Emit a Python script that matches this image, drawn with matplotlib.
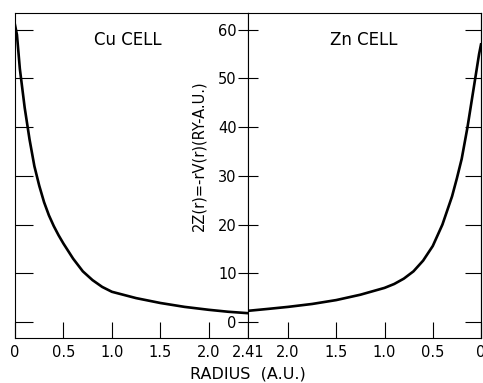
import matplotlib
matplotlib.use("Agg")
import matplotlib.pyplot as plt

# values
cu_r = [0, 0.02, 0.05, 0.1, 0.15, 0.2, 0.25, 0.3, 0.35, 0.4, 0.45, 0.5, 0.6, 0.7, 0.8, 0.9,
        1.0, 1.25, 1.5, 1.75, 2.0, 2.2, 2.41]
cu_z = [61, 59, 52, 44, 37.5, 32, 28, 24.6, 21.9, 19.7, 17.8, 16.1, 13, 10.4, 8.6, 7.2,
        6.2, 4.9, 3.9, 3.1, 2.5, 2.1, 1.8]
zn_r = [0, 0.02, 0.06, 0.1, 0.14, 0.2, 0.25, 0.3, 0.4, 0.5, 0.6, 0.7, 0.8, 0.9,
        1.0, 1.25, 1.5, 1.75, 2.0, 2.2, 2.41]
zn_z = [57, 55, 50, 45, 40, 33.5, 29.5, 25.8, 20, 15.6, 12.6, 10.4, 8.9, 7.8,
        7.0, 5.6, 4.5, 3.7, 3.1, 2.7, 2.3]

yticks = [0, 10, 20, 30, 40, 50, 60]
left_xticks = [0, 0.5, 1.0, 1.5, 2.0, 2.41]
left_xlabels = ["0", "0.5", "1.0", "1.5", "2.0", "2.41"]
right_xticks = [2.0, 1.5, 1.0, 0.5, 0]
right_xlabels = ["2.0", "1.5", "1.0", "0.5", "0"]

plt.rcParams["font.family"] = "DejaVu Sans"
W, H = 483, 383
fig = plt.figure(figsize=(W / 100, H / 100), dpi=100)

ymin, ymax = -3.29, 63.45
ax1 = fig.add_axes([15 / W, 45 / H, 233.5 / W, 325 / H])
ax2 = fig.add_axes([248.5 / W, 45 / H, 232.5 / W, 325 / H])

for ax in (ax1, ax2):
    ax.set_ylim(ymin, ymax)
    ax.set_yticks(yticks)
    for s in ax.spines.values():
        s.set_linewidth(0.8)
    ax.tick_params(axis="x", direction="in", length=11.5, width=0.8,
                   labelsize=10.5, pad=5)

# Cu cell
ax1.plot(cu_r, cu_z, color="black", lw=1.9)
ax1.set_xlim(0, 2.41)
ax1.set_xticks(left_xticks, left_xlabels)
ax1.tick_params(axis="y", direction="in", length=13, width=0.8,
                left=True, right=False, labelleft=False)
ax1.text(1.16, 58, "Cu CELL", fontsize=12, ha="center", va="center")

# Zn cell (radius runs backwards)
ax2.plot(zn_r, zn_z, color="black", lw=1.9)
ax2.set_xlim(2.41, 0)
ax2.set_xticks(right_xticks, right_xlabels)
ax2.tick_params(axis="y", direction="inout", length=15, width=0.8,
                left=True, right=False, labelleft=True, labelsize=10.5, pad=1)
ax2.text(1.22, 58, "Zn CELL", fontsize=12, ha="center", va="center")
sec = ax2.secondary_yaxis("right")
sec.set_yticks(yticks)
sec.tick_params(direction="in", length=11.5, width=0.8, labelright=False)
sec.spines["right"].set_linewidth(0.8)

fig.text(199 / W, 1 - 156 / H, "2Z(r)=-rV(r)(RY-A.U.)", rotation=90,
         fontsize=10.5, ha="center", va="center")
fig.text(248 / W, 1 - 374 / H, "RADIUS  (A.U.)", fontsize=11.5,
         ha="center", va="center")

fig.savefig("out.png", dpi=100)
